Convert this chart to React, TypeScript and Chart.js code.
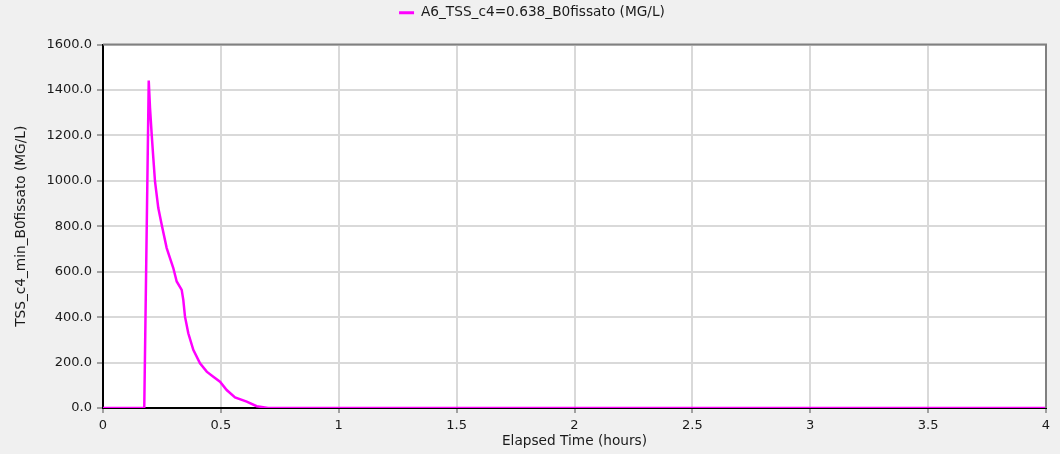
import React, { useEffect, useRef } from "react";
import { Chart, registerables } from "chart.js";

Chart.register(...registerables);

const seriesLabel = "A6_TSS_c4=0.638_B0fissato (MG/L)";
const xTitle = "Elapsed Time (hours)";
const yTitle = "TSS_c4_min_B0fissato (MG/L)";

const times = [0, 0.175, 0.194, 0.1994, 0.2066, 0.2134, 0.2206, 0.2346, 0.249, 0.2702, 0.2982, 0.3126, 0.3338, 0.3406, 0.3478, 0.3618, 0.383, 0.4115, 0.4399, 0.4679, 0.4963, 0.5247, 0.56, 0.6096, 0.652, 0.70, 4];
const values = [0, 0, 1441, 1321, 1203, 1101, 997, 880, 807, 704, 616, 557, 520, 476, 402, 329, 256, 197, 160, 138, 116, 79, 47, 28, 8, 0, 0];

const xMin = 0;
const xMax = 4;
const xStep = 0.5;
const yMin = 0;
const yMax = 1600;
const yStep = 200;

const FONT = "'DejaVu Sans', 'Liberation Sans', Arial, sans-serif";
const TEXT_SIZE = 13.7;

const plotFramePlugin = {
  id: "plotFrame",
  beforeLayout(chart: any) {
    const lg = chart.legend;
    if (lg && !lg.__patched) {
      const orig = lg.fit.bind(lg);
      lg.fit = function () {
        orig();
        this.height += 14.8;
      };
      lg.__patched = true;
    }
  },
  afterLayout(chart: any) {
    const lg = chart.legend;
    if (lg) {
      lg.left += 9;
      lg.right += 9;
    }
  },
  beforeDraw(chart: any) {
    const { ctx, chartArea } = chart;
    ctx.save();
    ctx.fillStyle = "#ffffff";
    ctx.fillRect(chartArea.left, chartArea.top, chartArea.right - chartArea.left, chartArea.bottom - chartArea.top);
    ctx.restore();
  },
  afterDatasetsDraw(chart: any) {
    const { ctx, chartArea } = chart;
    ctx.save();
    ctx.strokeStyle = "#808080";
    ctx.lineWidth = 2;
    ctx.beginPath();
    ctx.moveTo(chartArea.left, chartArea.top);
    ctx.lineTo(chartArea.right, chartArea.top);
    ctx.lineTo(chartArea.right, chartArea.bottom);
    ctx.stroke();
    ctx.restore();
  },
};

export default function App() {
  const ref = useRef<HTMLCanvasElement | null>(null);
  useEffect(() => {
    document.body.style.margin = "0";
    document.body.style.background = "#f0f0f0";
    Chart.defaults.font.family = FONT;
    Chart.defaults.font.size = 13;
    Chart.defaults.color = "#1a1a1a";
    const canvas = ref.current;
    if (!canvas) return;
    const chart = new Chart(canvas, {
      type: "line",
      data: {
        datasets: [
          {
            label: seriesLabel,
            data: times.map((t, i) => ({ x: t, y: values[i] })),
            borderColor: "#ff00ff",
            backgroundColor: "#ff00ff",
            borderWidth: 2.5,
            pointRadius: 0,
            tension: 0,
            fill: false,
          },
        ],
      },
      options: {
        responsive: false,
        animation: false,
        layout: { padding: { top: 0, right: 14, bottom: 0, left: 0 } },
        plugins: {
          tooltip: { enabled: false },
          legend: {
            position: "top",
            labels: {
              padding: 6,
              boxWidth: 15,
              boxHeight: 3,
              color: "#1a1a1a",
              font: { size: TEXT_SIZE, family: FONT },
              generateLabels(chart: any) {
                const items = Chart.defaults.plugins.legend.labels.generateLabels(chart);
                return items.map((it: any) => ({ ...it, lineWidth: 0, fillStyle: "#ff00ff" }));
              },
            },
          },
        },
        scales: {
          x: {
            type: "linear",
            min: xMin,
            max: xMax,
            ticks: {
              stepSize: xStep,
              padding: 5,
              color: "#1a1a1a",
              maxRotation: 0,
              font: { size: 13, family: FONT },
              callback: (v: any) => String(Number(v)),
            },
            grid: { color: "#d9d9d9", lineWidth: 2, tickLength: 5, tickColor: "#a0a0a0" },
            border: { color: "#000", width: 2 },
            title: { display: true, text: xTitle, color: "#1a1a1a", padding: { top: 3.5, bottom: 4 }, font: { size: TEXT_SIZE, family: FONT } },
            afterFit(scale: any) {
              scale.height = 46;
            },
          },
          y: {
            type: "linear",
            min: yMin,
            max: yMax,
            ticks: {
              stepSize: yStep,
              padding: 5,
              color: "#1a1a1a",
              font: { size: 13, family: FONT },
              callback: (v: any) => Number(v).toFixed(1),
            },
            grid: { color: "#d9d9d9", lineWidth: 2, tickLength: 6, tickColor: "#a0a0a0" },
            border: { color: "#000", width: 2 },
            title: { display: true, text: yTitle, color: "#1a1a1a", padding: { top: 13.5, bottom: 5 }, font: { size: TEXT_SIZE, family: FONT } },
            afterFit(scale: any) {
              scale.width = 103;
            },
          },
        },
      },
      plugins: [plotFramePlugin],
    } as any);
    return () => chart.destroy();
  }, []);
  return (
    <div style={{ width: 1060, height: 454, background: "#f0f0f0" }}>
      <canvas ref={ref} width={1060} height={454} style={{ display: "block" }} />
    </div>
  );
}
